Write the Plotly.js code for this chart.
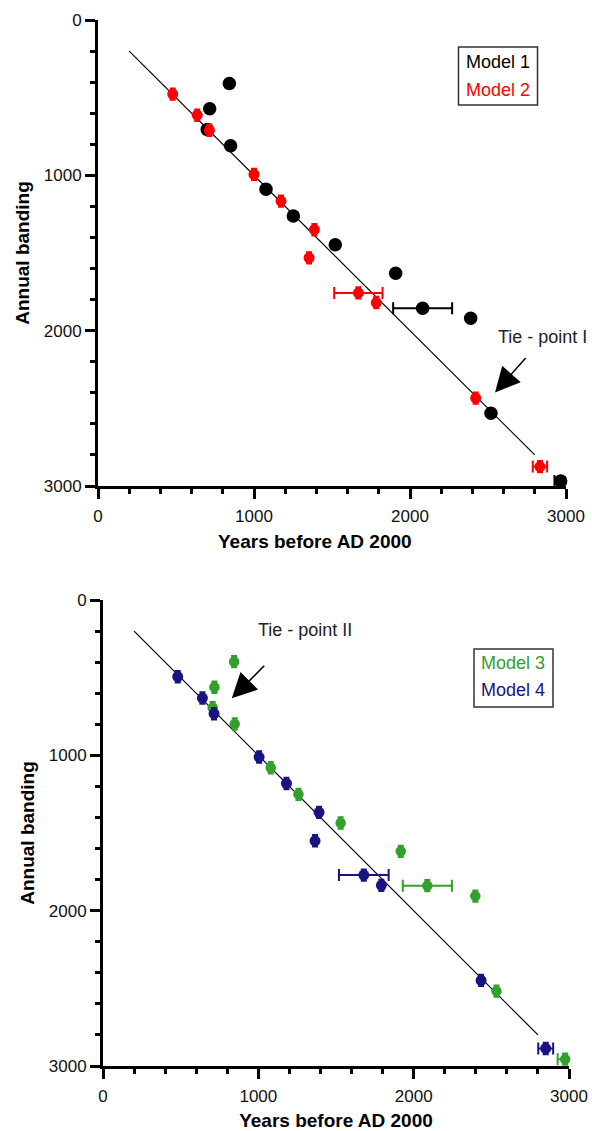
<!DOCTYPE html>
<html>
<head>
<meta charset="utf-8">
<script src="https://cdn.plot.ly/plotly-3.0.1.min.js"></script>
<style>html,body{margin:0;padding:0;background:#fff;}#chart{width:592px;height:1131px;}</style>
</head>
<body>
<div id="chart"></div>
<script>
// ---- data ----
const model1X = [842, 716, 700, 850, 1077, 1252, 1521, 1908, 2081, 2389, 2519, 2966];
const model1Y = [409, 572, 705, 809, 1090, 1262, 1447, 1630, 1856, 1920, 2531, 2968];
const model1XErr = [null, null, null, null, null, null, null, null, 189, null, null, 40];

const model2X = [479, 636, 714, 1000, 1173, 1387, 1353, 1669, 1784, 2421, 2833];
const model2Y = [477, 613, 710, 994, 1166, 1350, 1531, 1757, 1819, 2434, 2875];
const model2XErr = [null, null, null, null, null, null, null, 155, null, null, 46];

const model3X = [717, 844, 706, 848, 1080, 1258, 1530, 1917, 2088, 2397, 2533, 2975];
const model3Y = [562, 397, 693, 798, 1080, 1251, 1436, 1618, 1839, 1906, 2518, 2956];
const model3XErr = [null, null, null, null, null, null, null, null, 158, null, null, 48];

const model4X = [481, 640, 715, 1005, 1181, 1391, 1365, 1679, 1792, 2434, 2850];
const model4Y = [494, 631, 732, 1011, 1181, 1367, 1550, 1771, 1837, 2449, 2887];
const model4XErr = [null, null, null, null, null, null, null, 160, null, null, 48];

const yErrSmall = 35;           // small vertical whiskers on points
const lineX = [200, 2800];      // 1:1 reference line
const lineY = [200, 2800];

const seriesNames = ['Model 1', 'Model 2', 'Model 3', 'Model 4'];
const tieLabels = ['Tie - point I', 'Tie - point II'];
const xTitle = 'Years before AD 2000';
const yTitle = 'Annual banding';

// ---- styles ----
const FONT = 'Liberation Sans, Arial, Helvetica, sans-serif';
const C1 = '#000000', C2 = '#ff0000', C3 = '#33a02c', C4 = '#1a1480';

function pts(x, y, xerr, color, size, withY, xa, ya, name) {
  const t = {
    type: 'scatter', mode: 'markers', x: x, y: y, name: name,
    xaxis: xa, yaxis: ya, cliponaxis: false, showlegend: false,
    marker: {color: color, size: size, line: {width: 0}},
    error_x: {type: 'data', array: xerr, visible: true, color: color, thickness: 2, width: 6}
  };
  if (withY) t.error_y = {type: 'constant', value: yErrSmall, visible: true, color: color, thickness: 2.5, width: 3};
  return t;
}
function fitLine(xa, ya) {
  return {type: 'scatter', mode: 'lines', x: lineX, y: lineY, xaxis: xa, yaxis: ya,
          line: {color: '#000', width: 1.2}, showlegend: false, hoverinfo: 'skip'};
}

const data = [
  fitLine('x', 'y'),
  pts(model1X, model1Y, model1XErr, C1, 13.5, false, 'x', 'y', seriesNames[0]),
  pts(model2X, model2Y, model2XErr, C2, 11, true, 'x', 'y', seriesNames[1]),
  fitLine('x2', 'y2'),
  pts(model3X, model3Y, model3XErr, C3, 10.5, true, 'x2', 'y2', seriesNames[2]),
  pts(model4X, model4Y, model4XErr, C4, 11, true, 'x2', 'y2', seriesNames[3])
];

const titleFont = {family: FONT, size: 19, color: '#000', weight: 'bold'};

function xAxis(domain, anchor, withTitle) {
  const a = {
    domain: domain, anchor: anchor, range: [0, 3000], autorange: false,
    showline: true, linewidth: 3, linecolor: '#000', mirror: false,
    showgrid: false, zeroline: false,
    ticks: 'outside', ticklen: 10, tickwidth: 3, tickcolor: '#000', dtick: 1000, tick0: 0,
    minor: {dtick: 200, ticks: 'outside', ticklen: 5, tickwidth: 3, tickcolor: '#000', showgrid: false},
    tickfont: {family: FONT, size: 17, color: '#111'},
    ticklabelstandoff: 3,
    automargin: false
  };
  if (withTitle) a.title = {text: xTitle, font: titleFont, standoff: 12};
  return a;
}
function yAxis(domain, anchor) {
  return {
    domain: domain, anchor: anchor, range: [3000, 0], autorange: false,
    showline: true, linewidth: 3, linecolor: '#000', mirror: false,
    showgrid: false, zeroline: false,
    ticks: 'outside', ticklen: 10, tickwidth: 3, tickcolor: '#000', dtick: 1000, tick0: 0,
    minor: {dtick: 200, ticks: 'outside', ticklen: 5, tickwidth: 3, tickcolor: '#000', showgrid: false},
    tickfont: {family: FONT, size: 17, color: '#111'},
    title: {text: yTitle, font: titleFont, standoff: 10},
    automargin: false
  };
}

const W = 592, H = 1131;
const px = v => v / W;
const py = v => (H - v) / H;

const layout = {
  width: W, height: H,
  margin: {l: 0, r: 0, t: 0, b: 0},
  paper_bgcolor: '#fff', plot_bgcolor: '#fff',
  font: {family: FONT, color: '#000'},
  showlegend: false,
  xaxis: xAxis([px(98), px(566)], 'y', false),
  yaxis: yAxis([py(486), py(20)], 'x'),
  xaxis2: xAxis([px(103), px(569)], 'y2', true),
  yaxis2: yAxis([py(1066), py(600)], 'x2'),
  shapes: [
    {type: 'rect', xref: 'paper', yref: 'paper', x0: px(458.5), x1: px(537.5), y0: py(105), y1: py(47),
     line: {color: '#333', width: 1.5}, fillcolor: 'rgba(0,0,0,0)'},
    {type: 'rect', xref: 'paper', yref: 'paper', x0: px(474), x1: px(553), y0: py(707), y1: py(649),
     line: {color: '#333', width: 1.5}, fillcolor: 'rgba(0,0,0,0)'}
  ],
  annotations: [
    // top x-axis title (sits left of the axis centre in the reference)
    {xref: 'paper', yref: 'paper', x: px(315), y: py(541), text: xTitle, showarrow: false,
     xanchor: 'center', yanchor: 'middle', font: titleFont},
    // legend texts
    {xref: 'paper', yref: 'paper', x: px(498), y: py(62), text: seriesNames[0], showarrow: false,
     xanchor: 'center', yanchor: 'middle', font: {family: FONT, size: 18, color: C1}},
    {xref: 'paper', yref: 'paper', x: px(498), y: py(90), text: seriesNames[1], showarrow: false,
     xanchor: 'center', yanchor: 'middle', font: {family: FONT, size: 18, color: C2}},
    {xref: 'paper', yref: 'paper', x: px(513), y: py(663), text: seriesNames[2], showarrow: false,
     xanchor: 'center', yanchor: 'middle', font: {family: FONT, size: 18, color: C3}},
    {xref: 'paper', yref: 'paper', x: px(513), y: py(690), text: seriesNames[3], showarrow: false,
     xanchor: 'center', yanchor: 'middle', font: {family: FONT, size: 18, color: C4}},
    // tie point labels
    {xref: 'x', yref: 'y', x: 2849, y: 2043, text: tieLabels[0], showarrow: false,
     xanchor: 'center', yanchor: 'middle', font: {family: FONT, size: 18, color: '#222'}},
    {xref: 'x2', yref: 'y2', x: 1301, y: 193, text: tieLabels[1], showarrow: false,
     xanchor: 'center', yanchor: 'middle', font: {family: FONT, size: 18, color: '#222'}},
    // arrows
    {xref: 'x', yref: 'y', x: 2545, y: 2398, ax: 32, ay: -36, text: '', showarrow: true,
     arrowhead: 2, arrowsize: 3.3, arrowwidth: 1.5, arrowcolor: '#000', standoff: 0},
    {xref: 'x2', yref: 'y2', x: 829, y: 633, ax: 34, ay: -34, text: '', showarrow: true,
     arrowhead: 2, arrowsize: 3.3, arrowwidth: 1.5, arrowcolor: '#000', standoff: 0}
  ]
};

Plotly.newPlot('chart', data, layout, {staticPlot: true, displayModeBar: false});
</script>
</body>
</html>
